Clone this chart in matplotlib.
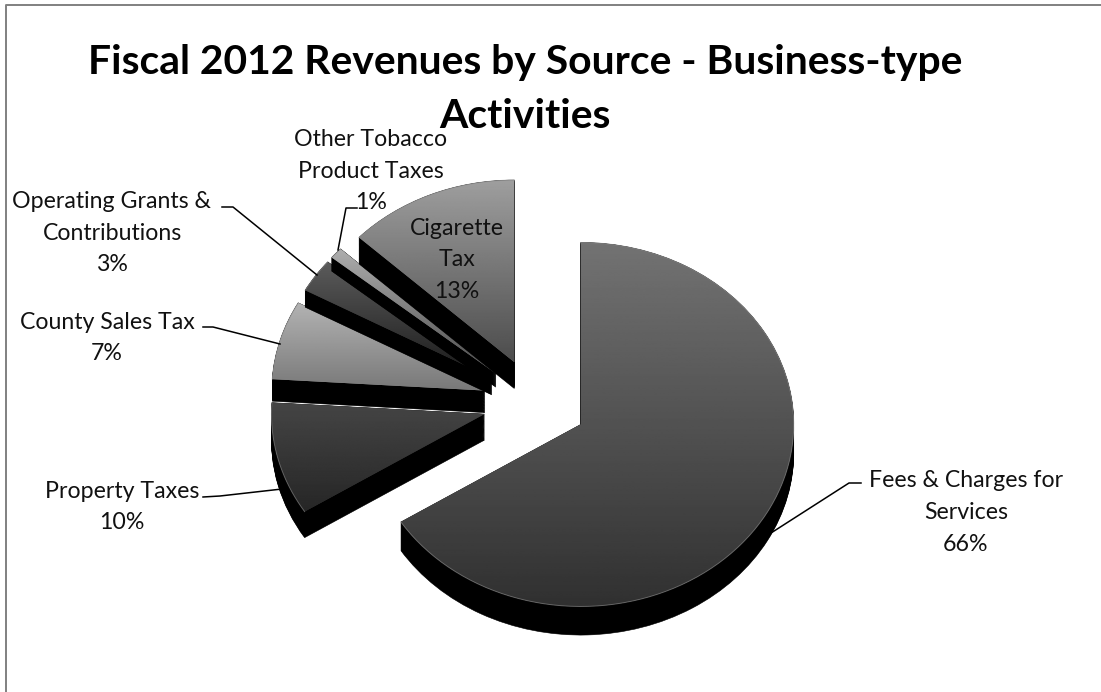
import numpy as np
import matplotlib
matplotlib.use('Agg')
import matplotlib.pyplot as plt
from matplotlib.lines import Line2D
from matplotlib.patches import Wedge

W, H = 1101, 692

title = 'Fiscal 2012 Revenues by Source - Business-type\nActivities'
sources = ['Fees & Charges for\nServices', 'Property Taxes', 'County Sales Tax',
           'Operating Grants &\nContributions', 'Other Tobacco\nProduct Taxes',
           'Cigarette\nTax']
shares = [66, 10, 7, 3, 1, 13]

# gray level at the top and bottom of each slice
top_gray = [0.45, 0.27, 0.70, 0.36, 0.68, 0.62]
bottom_gray = [0.19, 0.15, 0.47, 0.10, 0.30, 0.30]
# wall height per slice, back slices look thinner
wall_depth = [0.157, 0.143, 0.121, 0.093, 0.075, 0.145]


def px(x, y):
    return x / W, 1 - y / H


plt.rcParams['font.family'] = ['Lato', 'DejaVu Sans']
fig = plt.figure(figsize=(W / 100, H / 100), dpi=100)
ax = fig.add_axes([0, 0, 1, 1])

wedges, _ = ax.pie(shares, explode=[0.245] * len(shares), startangle=90,
                   counterclock=False, wedgeprops={'linewidth': 0})
ax.set_aspect('auto')

for i, w in enumerate(wedges):
    base = 10 + i * 4
    # side wall: the slice repeated downward in black
    for d in np.linspace(0, wall_depth[i], 30):
        ax.add_patch(Wedge((w.center[0], w.center[1] - d), w.r, w.theta1, w.theta2,
                           fc='black', ec='black', lw=0.4, zorder=base))
    # top face with a vertical gradient
    w.set_zorder(base + 1)
    w.set_facecolor(str((top_gray[i] + bottom_gray[i]) / 2))
    box = w.get_path().get_extents()
    grad = np.linspace(top_gray[i], bottom_gray[i], 200).reshape(-1, 1)
    im = ax.imshow(grad, cmap='gray', vmin=0, vmax=1, aspect='auto',
                   extent=[box.x0, box.x1, box.y0, box.y1], zorder=base + 2)
    im.set_clip_path(w)
    # thin lighter rim on the outer edge
    t = np.radians(np.linspace(w.theta1, w.theta2, 200))
    ax.plot(w.center[0] + w.r * np.cos(t), w.center[1] + w.r * np.sin(t),
            color='#8a8a8a', lw=0.7, alpha=0.6, zorder=base + 3)

ax.set_xlim(-535 / 213, (W - 535) / 213)
ax.set_ylim(-(H - 403) / 182, 403 / 182)
ax.axis('off')

# title
x, y = px(525, 89.5)
fig.text(x, y, title, ha='center', va='center', fontsize=29.4, fontweight='bold',
         linespacing=1.56, color='black')

# data labels: centre x, centre y
label_pos = [(966, 512.5), (122, 507), (107, 338), (112, 233), (371, 171), (457, 260)]
for name, share, (lx, ly) in zip(sources, shares, label_pos):
    x, y = px(lx, ly)
    fig.text(x, y, f'{name}\n{share}%', ha='center', va='center', fontsize=16.7,
             linespacing=1.62, color='#111111', zorder=50)

# leader lines
leaders = [
    [(861, 483), (849, 483), (771, 533)],
    [(203, 497), (220, 496), (282, 489)],
    [(203, 327), (213, 327), (280, 344)],
    [(222, 207), (233, 207), (317, 275)],
    [(357, 208), (346, 208), (338, 250)],
]
for pts in leaders:
    xs, ys = zip(*[px(*p) for p in pts])
    fig.add_artist(Line2D(xs, ys, color='black', lw=1.1, transform=fig.transFigure))

# chart frame, top and left only
xs, ys = zip(*[px(*p) for p in [(5.5, H), (5.5, 4.5), (W, 4.5)]])
fig.add_artist(Line2D(xs, ys, color='#808080', lw=1.4, transform=fig.transFigure))

fig.savefig('out.png', dpi=100, facecolor='white')
